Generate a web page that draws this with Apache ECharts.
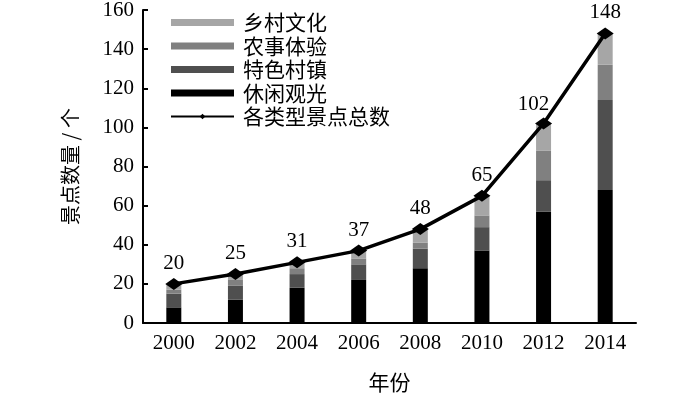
<!DOCTYPE html>
<html><head><meta charset="utf-8">
<script src="https://cdn.jsdelivr.net/npm/echarts@6/dist/echarts.min.js"></script>
<style>html,body{margin:0;padding:0;background:#fff}#c{width:700px;height:393px}</style>
</head><body><div id="c"></div>
<script>
const years = ['2000','2002','2004','2006','2008','2010','2012','2014'];
const leisure = [8, 12, 18, 22, 28, 37, 57, 68];      // 休闲观光
const townVillage = [7, 7, 7, 8, 10, 12, 16, 46];     // 特色村镇
const farming = [2, 3, 3, 3, 3, 6, 15, 18];           // 农事体验
const culture = [3, 3, 3, 4, 7, 10, 14, 16];          // 乡村文化
const totals = [20, 25, 31, 37, 48, 65, 102, 148];    // 各类型景点总数
const yTicks = [0, 20, 40, 60, 80, 100, 120, 140, 160];

const serif = 'Liberation Serif';
const cjk = '"Noto Sans CJK SC", sans-serif';

const chart = echarts.init(document.getElementById('c'));
const barBase = (name, data, color) => ({
  name, type: 'bar', stack: 'a', data, barWidth: 15,
  itemStyle: { color }, z: 2
});
chart.setOption({
  animation: false,
  grid: { left: 143, right: 64, top: 10, bottom: 70, containLabel: false, outerBoundsMode: 'none' },
  legend: {
    orient: 'vertical', left: 165, top: 7,
    itemWidth: 63, itemHeight: 7, itemGap: 2.5,
    data: [
      { name: '乡村文化', icon: 'rect' },
      { name: '农事体验', icon: 'rect' },
      { name: '特色村镇', icon: 'rect' },
      { name: '休闲观光', icon: 'rect' },
      { name: '各类型景点总数' }
    ],
    textStyle: { fontFamily: cjk, fontSize: 21, color: '#000', lineHeight: 21, padding: [0,0,0,4] }
  },
  xAxis: {
    type: 'category', data: years,
    name: '年份', nameLocation: 'middle', nameGap: 49,
    nameTextStyle: { fontFamily: cjk, fontSize: 21, color: '#000' },
    axisLine: { lineStyle: { color: '#000', width: 2 } },
    axisTick: { inside: true, length: 4, lineStyle: { color: '#000', width: 2 } },
    axisLabel: { fontFamily: serif, fontSize: 21, color: '#000', margin: 10 }
  },
  yAxis: {
    type: 'value', min: yTicks[0], max: yTicks[yTicks.length - 1], interval: 20,
    name: '景点数量 / 个', nameLocation: 'middle', nameGap: 63, nameRotate: 90,
    nameTextStyle: { fontFamily: cjk, fontSize: 20, color: '#000' },
    axisLine: { show: true, lineStyle: { color: '#000', width: 2 } },
    axisTick: { show: true, inside: true, length: 5, lineStyle: { color: '#000', width: 2 } },
    axisLabel: { fontFamily: serif, fontSize: 21, color: '#000', margin: 9 },
    splitLine: { show: false }
  },
  series: [
    barBase('休闲观光', leisure, '#000000'),
    barBase('特色村镇', townVillage, '#4f4f4f'),
    barBase('农事体验', farming, '#808080'),
    barBase('乡村文化', culture, '#a6a6a6'),
    {
      name: '各类型景点总数', type: 'line', z: 5,
      data: totals.map((v, i) => i === 6 ? { value: v, label: { offset: [-10, 2] } } : v),
      symbol: 'diamond', symbolSize: [17, 12],
      lineStyle: { color: '#000', width: 3.5 },
      itemStyle: { color: '#000' },
      label: { show: true, position: 'top', distance: 4, fontFamily: serif, fontSize: 21, color: '#000' }
    }
  ]
});
</script></body></html>
